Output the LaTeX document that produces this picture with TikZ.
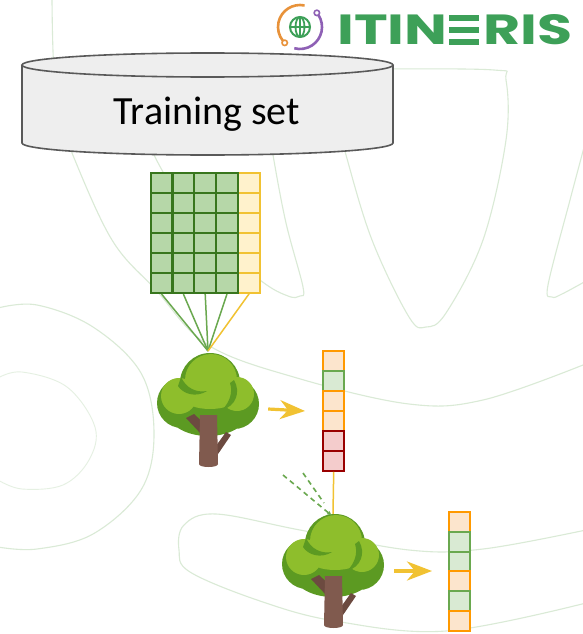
\documentclass[tikz,border=0pt]{standalone}
\usepackage{fontspec}
\setmainfont{Carlito}
\newfontfamily\logofont{Poppins}
\usetikzlibrary{arrows.meta}

\definecolor{cellgreen}{RGB}{182,215,168}
\definecolor{cellgreenline}{RGB}{56,118,29}
\definecolor{celly}{RGB}{255,242,204}
\definecolor{cellyline}{RGB}{241,194,50}
\definecolor{linkgreen}{RGB}{106,168,79}
\definecolor{vorange}{RGB}{255,153,0}
\definecolor{vorangefill}{RGB}{252,229,205}
\definecolor{vgreenfill}{RGB}{217,234,211}
\definecolor{vred}{RGB}{153,0,0}
\definecolor{vredfill}{RGB}{244,204,204}
\definecolor{cylfill}{RGB}{238,238,238}
\definecolor{cylline}{RGB}{89,89,89}
\definecolor{leafdark}{RGB}{92,154,34}
\definecolor{leaflight}{RGB}{142,190,44}
\definecolor{bark}{RGB}{128,90,78}
\definecolor{barkdark}{RGB}{108,74,64}
\definecolor{logogreen}{RGB}{61,160,88}
\definecolor{logoorange}{RGB}{232,146,58}
\definecolor{logopurple}{RGB}{142,96,181}
\definecolor{wmline}{RGB}{218,234,214}

% stylised E of the logo: three stacked bars
\newlength\logocap
\newcommand\logoE{\settoheight{\logocap}{I}\kern0.03em%
  \rule{0.52em}{0.19\logocap}\kern-0.52em%
  \raisebox{0.405\logocap}{\rule{0.52em}{0.19\logocap}}\kern-0.52em%
  \raisebox{0.81\logocap}{\rule{0.52em}{0.19\logocap}}\kern0.08em}

\tikzset{
  wm/.style={draw=wmline, line width=1.1pt},
  wmfaint/.style={draw=wmline!70!white, line width=0.9pt},
  gcell/.style={draw=cellgreenline, fill=cellgreen, line width=2.2pt,
    minimum width=21.8pt, minimum height=20pt, inner sep=0pt},
  ycell/.style={draw=cellyline, fill=celly, line width=1.6pt,
    minimum width=21.8pt, minimum height=20pt, inner sep=0pt},
  vcell/.style={line width=2pt, minimum width=20.6pt, minimum height=19.9pt, inner sep=0pt},
  vo/.style={vcell, draw=vorange, fill=vorangefill},
  vg/.style={vcell, draw=linkgreen, fill=vgreenfill},
  vr/.style={vcell, draw=vred, fill=vredfill},
  glink/.style={draw=linkgreen, line width=1.5pt},
  ylink/.style={draw=cellyline, line width=1.5pt},
  dlink/.style={draw=linkgreen, line width=1.6pt, dash pattern=on 5pt off 4pt},
  yarrow/.style={draw=cellyline, line width=3.2pt,
    -{Stealth[length=25pt, width=19pt, inset=8pt]}},
  treebox/.style={minimum width=104pt, minimum height=114pt, inner sep=0pt},
  tree/.pic={
    % canopy shadow
    \fill[leafdark] (-26,-7) circle[radius=25] (2,-27) circle[radius=30]
      (26,-6) circle[radius=25] (0,2) ellipse[x radius=40, y radius=24];
    % canopy highlights
    \fill[leaflight] (3,-30) circle[radius=26] (-29,-14) circle[radius=18]
      (29,-16) circle[radius=17] (2,-10) ellipse[x radius=24, y radius=9];
    \fill[leafdark] (-27,-33) .. controls (-22,-22) and (-12,-17) .. (-1,-19)
      .. controls (-12,-12) and (-25,-16) .. (-30,-24) -- cycle;
    \fill[leafdark] (26,-30) .. controls (33,-18) and (28,-4) .. (14,0)
      .. controls (22,-8) and (25,-18) .. (22,-27) -- cycle;
    % trunk and branches
    \fill[barkdark] (-6,25) -- (-22,8) -- (-14,4) -- (0,17) -- cycle;
    \fill[barkdark] (5,40) -- (18,22) -- (23,25) -- (8,47) -- cycle;
    \fill[bark] (-8,5) -- (9,5) -- (10,54) .. controls (10,58) and (-9,58) .. (-9,54) -- cycle;
  }
}

\begin{document}
\begin{tikzpicture}[x=1pt, y=-1pt]
\useasboundingbox (0,0) rectangle (583,634);
\fill[white] (0,0) rectangle (583,634);

% faint background outlines
\draw[wm] plot[smooth, tension=0.6] coordinates {(52,0) (54,70) (62,120) (72,153) (112,240) (156,290) (208,345) (297,378) (409,404) (483,400) (583,365)};
\draw[wm] plot[smooth, tension=0.6] coordinates {(146,120) (154,155) (200,228) (260,280) (288,296) (300,296) (303,287) (286,223) (273,155) (268,120)};
\draw[wm] plot[smooth, tension=0.6] coordinates {(380,69) (494,70) (506,80) (506,140) (483,240) (446,313) (426,327) (409,317) (372,240) (346,155) (338,120)};
\draw[wm] plot[smooth, tension=0.6] coordinates {(586,140) (570,200) (548,285) (552,297) (562,294) (586,281)};
\draw[wm] plot[smooth, tension=0.6] coordinates {(-2,308) (37,305) (93,327) (141,373) (154,434) (141,490) (93,534) (37,549) (-2,547)};
\draw[wmfaint] plot[smooth, tension=0.6] coordinates {(-2,378) (22,372) (67,387) (95,427) (89,460) (63,485) (22,489) (-2,480)};
\draw[wm] plot[smooth, tension=0.6] coordinates {(586,530) (483,549) (409,550) (300,530) (216,514) (184,525) (179,550) (190,572) (260,601) (335,621) (446,631) (586,603)};

% logo
\begin{scope}[shift={(300,27)}, y=1pt]
  \draw[logogreen, line width=2pt] (0,0) circle[radius=10];
  \draw[logogreen, line width=1.8pt] (0,0) ellipse[x radius=4.5, y radius=10];
  \draw[logogreen, line width=1.8pt] (0,-10) -- (0,10) (-10,0) -- (10,0);
  \draw[logoorange, line width=2.6pt] (78:22) arc[start angle=78, end angle=220, radius=22];
  \draw[logoorange, line width=1.6pt, fill=white] (226:22) circle[radius=2.7];
  \draw[logopurple, line width=2.6pt] (33:22) arc[start angle=33, end angle=-105, radius=22];
  \draw[logopurple, line width=1.6pt, fill=white] (40:22) circle[radius=2.7];
\end{scope}
\node[anchor=south west, inner sep=0pt, text=logogreen] (logo) at (337,45)
  {\resizebox{235pt}{30pt}{\logofont\bfseries ITIN\logoE RIS}};

% training set cylinder
\path[fill=cylfill, draw=cylline, line width=1.6pt] (22,65) -- (22,143)
  arc[start angle=180, end angle=0, x radius=185.5, y radius=12] -- (393,65);
\draw[fill=cylfill, draw=cylline, line width=1.6pt] (207.5,65) ellipse[x radius=185.5, y radius=12];
\node[anchor=base, inner sep=0pt, font=\fontsize{40}{48}\selectfont] (trainset) at (207,124) {Training set};

% data table: four feature columns and one label column
\foreach \r in {1,...,6}
  \node[ycell] (y-\r) at (249.1, {173+20*(\r-0.5)}) {};
\foreach \c in {1,...,4}
  \foreach \r in {1,...,6}
    \node[gcell] (g-\c-\r) at ({150.7+21.8*(\c-0.5)}, {173+20*(\r-0.5)}) {};

% first tree
\node[treebox] (tree1) at (208,410) {};
\coordinate (apex) at (208,351);
\foreach \c in {1,...,4}
  \draw[glink] (g-\c-6.south) -- (apex);
\draw[ylink] (y-6.south) -- (apex);
\pic at (208,410) {tree};

% first prediction vector
\foreach \t [count=\i] in {vo,vg,vo,vo,vr,vr}
  \node[\t] (a-\i) at (333.7, {351+20*(\i-0.5)}) {};
\coordinate (arr1) at (305,411);
\draw[yarrow] ([xshift=8pt,yshift=1pt]tree1.east) -- (arr1);

% second tree
\node[treebox] (tree2) at (333,571) {};
\pic at (333,571) {tree};
\draw[ylink] (a-6.south) -- (tree2.north);
\coordinate (d1) at (283,475);
\coordinate (d2) at (303,473);
\coordinate (d2end) at (324,503);
\draw[dlink, -{Latex[length=5pt, width=4.5pt]}] (d1) -- ([xshift=-1pt,yshift=-2pt]tree2.north);
\draw[dlink] (d2) -- (d2end);

% second prediction vector
\foreach \t [count=\i] in {vo,vg,vg,vo,vg,vo}
  \node[\t] (b-\i) at (459.7, {512+19.8*(\i-0.5)}) {};
\coordinate (arr2) at (432,571);
\draw[yarrow] ([xshift=9pt]tree2.east) -- (arr2);
\end{tikzpicture}
\end{document}
